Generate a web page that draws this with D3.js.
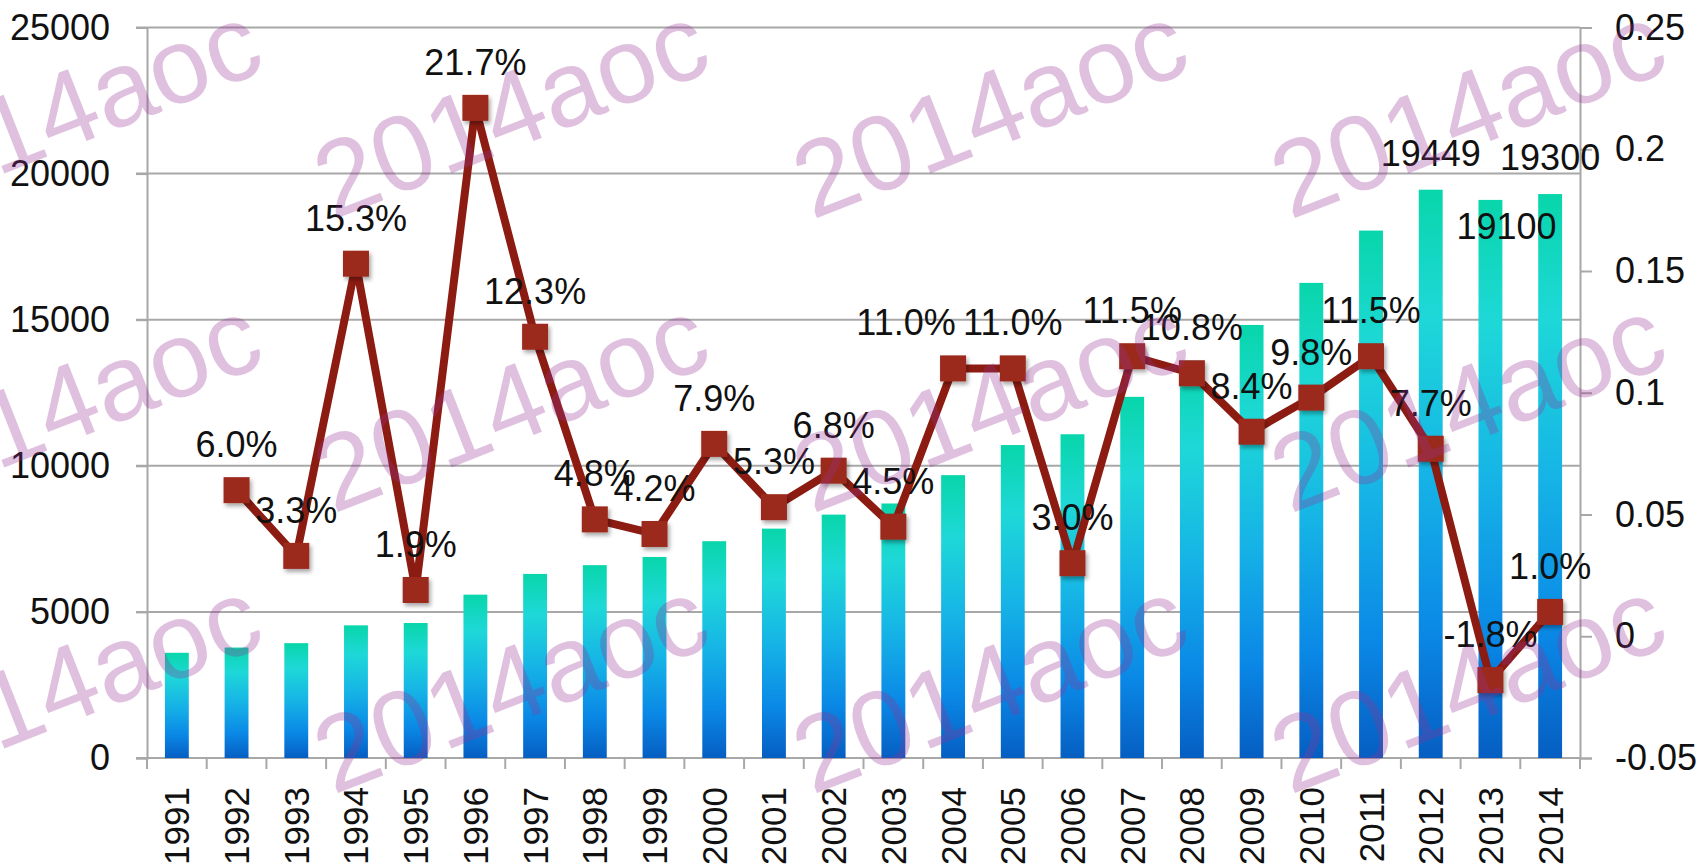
<!DOCTYPE html>
<html>
<head>
<meta charset="utf-8">
<script src="https://cdn.jsdelivr.net/npm/d3@7"></script>
<style>
    html, body { margin: 0; padding: 0; background: #fff; }
    svg { display: block; font-family: "Liberation Sans", Arial, sans-serif; }
</style>
</head>
<body>
<svg id="chart" width="1698" height="864"></svg>
<script>
/////////////////////////////////
// Bars + growth line, two y axes.
//

// Years along the bottom.
const years = ["1991", "1992", "1993", "1994", "1995", "1996", "1997", "1998",
    "1999", "2000", "2001", "2002", "2003", "2004", "2005", "2006",
    "2007", "2008", "2009", "2010", "2011", "2012", "2013", "2014"];

// Bar series (left axis).
const output = [3600, 3780, 3930, 4540, 4620, 5590, 6300, 6600,
    6880, 7420, 7850, 8330, 8710, 9680, 10710, 11080,
    12360, 13600, 14820, 16260, 18050, 19449, 19100, 19300];

// Growth rate series (right axis), no value for the first year.
const growth = [null, 0.060, 0.033, 0.153, 0.019, 0.217, 0.123, 0.048,
    0.042, 0.079, 0.053, 0.068, 0.045, 0.110, 0.110, 0.030,
    0.115, 0.108, 0.084, 0.098, 0.115, 0.077, -0.018, 0.010];

// Years whose bar carries a value label.
const labelledBars = ["2012", "2013", "2014"];

// Tick values.
const leftTicks = [0, 5000, 10000, 15000, 20000, 25000];
const rightTicks = [-0.05, 0, 0.05, 0.1, 0.15, 0.2, 0.25];
const rightTickLabels = ["-0.05", "0", "0.05", "0.1", "0.15", "0.2", "0.25"];

// Watermark text.
const watermark = "2014aoc";

document.addEventListener("DOMContentLoaded", () => {

    try {

        const svg = d3.select("#chart");

        const left = 147, right = 1580, top = 27.5, bottom = 758;

        const x = d3.scaleBand()
            .domain(years)
            .range([left, right])
            .paddingInner(0.6)
            .paddingOuter(0.3);
        const step = x.step();
        const cx = (d) => x(d) + x.bandwidth() / 2;

        const yLeft = d3.scaleLinear().domain([0, 25000]).range([bottom, top]);
        const yRight = d3.scaleLinear().domain([-0.05, 0.25]).range([bottom, top]);

        const defs = svg.append("defs");

        // Per-bar vertical gradient, teal on top to deep blue at the base.
        const grad = defs.append("linearGradient")
            .attr("id", "barFill")
            .attr("x1", 0).attr("y1", 0)
            .attr("x2", 0).attr("y2", 1);
        [["0%", "#08d6aa"], ["22%", "#1ed8d8"], ["50%", "#16b4e6"],
         ["78%", "#0a88e6"], ["100%", "#065ec2"]].forEach(([o, c]) => {

            grad.append("stop").attr("offset", o).attr("stop-color", c);
        });

        const shadow = defs.append("filter")
            .attr("id", "shadow")
            .attr("x", "-30%").attr("y", "-30%")
            .attr("width", "170%").attr("height", "170%");
        shadow.append("feDropShadow")
            .attr("dx", 2).attr("dy", 3)
            .attr("stdDeviation", 2)
            .attr("flood-color", "#000")
            .attr("flood-opacity", 0.35);

        // Gridlines from the left axis.
        svg.append("g")
            .selectAll("line")
            .data(leftTicks)
            .enter()
            .append("line")
            .attr("x1", left - 11)
            .attr("x2", right)
            .attr("y1", (d) => yLeft(d))
            .attr("y2", (d) => yLeft(d))
            .style("stroke", "#a8a8a8")
            .style("stroke-width", 2);

        // Left axis.
        const axisL = svg.append("g")
            .attr("transform", `translate(${left},0)`)
            .call(d3.axisLeft(yLeft)
                .tickValues(leftTicks)
                .tickSize(11)
                .tickPadding(26)
                .tickFormat(d3.format("d")));

        // Right axis.
        const axisR = svg.append("g")
            .attr("transform", `translate(${right},0)`)
            .call(d3.axisRight(yRight)
                .tickValues(rightTicks)
                .tickSize(12)
                .tickPadding(23)
                .tickFormat((d, i) => rightTickLabels[i]));

        [axisL, axisR].forEach((a) => {

            a.select(".domain").style("stroke", "#a8a8a8").style("stroke-width", 2);
            a.selectAll(".tick line").style("stroke", "#a8a8a8").style("stroke-width", 2);
            a.selectAll(".tick text")
                .style("font-size", "36px")
                .style("fill", "#111")
                .style("font-family", "'Liberation Sans', Arial, sans-serif");
        });

        // Bottom ticks sit on band boundaries.
        const boundaries = years.map((d) => x(d) - step * x.paddingOuter());
        boundaries.push(right);
        svg.append("g")
            .selectAll("line")
            .data(boundaries)
            .enter()
            .append("line")
            .attr("x1", (d) => d)
            .attr("x2", (d) => d)
            .attr("y1", bottom)
            .attr("y2", bottom + 11)
            .style("stroke", "#a8a8a8")
            .style("stroke-width", 2);

        // Rotated year labels.
        svg.append("g")
            .selectAll("text")
            .data(years)
            .enter()
            .append("text")
            .attr("transform", (d) => `translate(${cx(d) + 12.5},787) rotate(-90)`)
            .attr("text-anchor", "end")
            .style("font-size", "35px")
            .style("fill", "#111")
            .text((d) => d);

        // Bars.
        svg.append("g")
            .selectAll("rect")
            .data(years)
            .enter()
            .append("rect")
            .attr("x", (d) => x(d))
            .attr("width", x.bandwidth())
            .attr("y", (d, i) => yLeft(output[i]))
            .attr("height", (d, i) => yLeft(0) - yLeft(output[i]))
            .style("fill", "url(#barFill)");

        // Growth line.
        const points = years
            .map((d, i) => ({ year: d, value: growth[i] }))
            .filter((p) => p.value !== null);

        const line = d3.line()
            .x((p) => cx(p.year))
            .y((p) => yRight(p.value));

        svg.append("path")
            .datum(points)
            .attr("d", line)
            .style("fill", "none")
            .style("stroke", "#8c1c12")
            .style("stroke-width", 8)
            .style("stroke-linejoin", "round");

        svg.append("g")
            .selectAll("rect")
            .data(points)
            .enter()
            .append("rect")
            .attr("x", (p) => cx(p.year) - 13)
            .attr("y", (p) => yRight(p.value) - 13)
            .attr("width", 26)
            .attr("height", 26)
            .attr("filter", "url(#shadow)")
            .style("fill", "#9c2a1d");

        // Percentage labels (plain hyphen for negatives); the 2004 one sits left of its neighbour.
        const pct = (v) => (v * 100).toFixed(1) + "%";
        const nudge = { "2004": -47 };
        svg.append("g")
            .selectAll("text")
            .data(points)
            .enter()
            .append("text")
            .attr("x", (p) => cx(p.year) + (nudge[p.year] || 0))
            .attr("y", (p) => yRight(p.value) - 33)
            .attr("text-anchor", "middle")
            .style("font-size", "36px")
            .style("fill", "#111")
            .text((p) => pct(p.value));

        // Value labels on the last bars.
        svg.append("g")
            .selectAll("text")
            .data(labelledBars)
            .enter()
            .append("text")
            .attr("x", (d) => cx(d) + (d === "2013" ? 16 : 0))
            .attr("y", (d) => {

                const v = output[years.indexOf(d)];
                return d === "2013" ? yLeft(v) + 39 : yLeft(v) - 24;
            })
            .attr("text-anchor", "middle")
            .style("font-size", "36px")
            .style("fill", "#111")
            .text((d) => output[years.indexOf(d)]);

        // Watermark tiles over everything.
        const cols = [-114, 333, 812, 1290];
        const rows = [220, 514, 795];
        const marks = [];
        rows.forEach((ry) => cols.forEach((rx) => marks.push([rx, ry])));

        svg.append("g")
            .style("pointer-events", "none")
            .selectAll("text")
            .data(marks)
            .enter()
            .append("text")
            .attr("transform", (d) => `translate(${d[0]},${d[1]}) rotate(-21.5)`)
            .style("font-size", "107px")
            .style("fill", "rgb(150,50,150)")
            .style("fill-opacity", 0.3)
            .text(watermark);

    } catch (x) {

        alert(x.message);
    }
});
</script>
</body>
</html>
